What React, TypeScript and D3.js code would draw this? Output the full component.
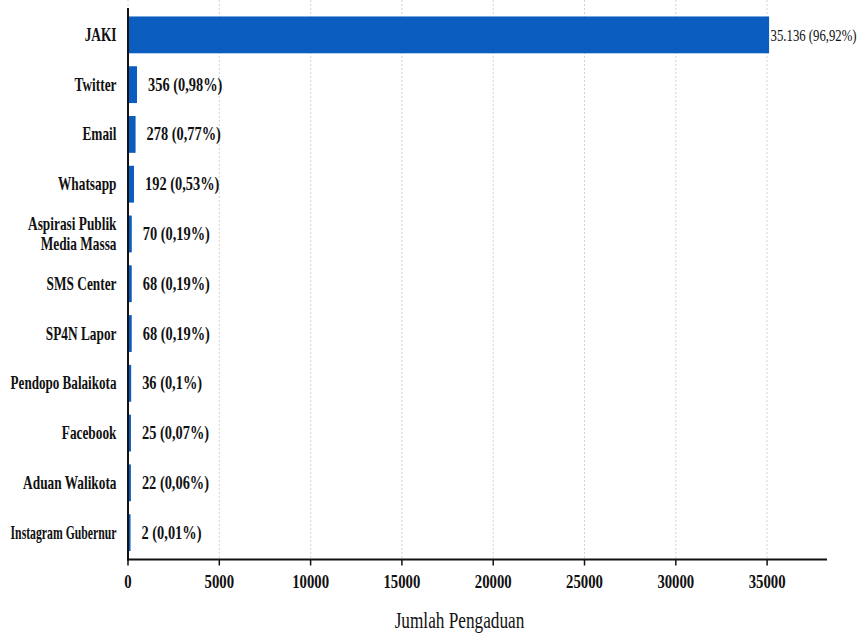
import React, { useLayoutEffect, useRef, useState } from "react";
import * as d3 from "d3";

const categories: string[][] = [
  ["JAKI"],
  ["Twitter"],
  ["Email"],
  ["Whatsapp"],
  ["Aspirasi Publik", "Media Massa"],
  ["SMS Center"],
  ["SP4N Lapor"],
  ["Pendopo Balaikota"],
  ["Facebook"],
  ["Aduan Walikota"],
  ["Instagram Gubernur"],
];
const values: number[] = [35136, 356, 278, 192, 70, 68, 68, 36, 25, 22, 2];
const valueLabels: string[] = [
  "35.136 (96,92%)",
  "356 (0,98%)",
  "278 (0,77%)",
  "192 (0,53%)",
  "70 (0,19%)",
  "68 (0,19%)",
  "68 (0,19%)",
  "36 (0,1%)",
  "25 (0,07%)",
  "22 (0,06%)",
  "2 (0,01%)",
];
const xTicks: number[] = [0, 5000, 10000, 15000, 20000, 25000, 30000, 35000];
const axisTitle = "Jumlah Pengaduan";

const W = 859;
const H = 639;
const BLUE = "#0b5dbf";
const FONT = "Liberation Serif, Times New Roman, serif";

function FitText(props: { x: number; y: number; text: string; base: number; maxW: number }) {
  const ref = useRef<SVGTextElement>(null);
  const [sx, setSx] = useState(props.base);
  useLayoutEffect(() => {
    if (ref.current) {
      const w = ref.current.getComputedTextLength();
      if (w > 0) setSx(Math.min(props.base, props.maxW / w));
    }
  }, [props.text, props.base, props.maxW]);
  return (
    <text
      ref={ref}
      transform={`translate(${props.x},${props.y}) scale(${sx},1)`}
      textAnchor="end"
      fontFamily={FONT}
      fontSize={18}
      fontWeight="bold"
      fill="#111"
    >
      {props.text}
    </text>
  );
}

export default function App() {
  const left = 128;
  const right = 827;
  const top = 8;
  const bottom = 559.5;

  const x = d3.scaleLinear().domain([0, 38280]).range([left, right]);
  const y = d3
    .scaleBand<number>()
    .domain(d3.range(categories.length))
    .range([top, bottom])
    .paddingInner(0.26)
    .paddingOuter(0.17);
  const bw = y.bandwidth();
  const sw = 2.5;

  return (
    <svg
      width={W}
      height={H}
      style={{ position: "absolute", left: 0, top: 0, background: "#fff" }}
    >
      <rect x={0} y={0} width={W} height={H} fill="#fff" />
      {xTicks.map((t) => (
        <line
          key={"g" + t}
          x1={x(t)}
          x2={x(t)}
          y1={0}
          y2={bottom}
          stroke="#d4d4d4"
          strokeWidth={1}
          strokeDasharray="2,2"
        />
      ))}
      {values.map((v, i) => {
        const cy = (y(i) as number) + bw / 2;
        return (
          <rect
            key={"b" + i}
            x={x(0) + sw / 2}
            y={cy - bw / 2 + sw / 2}
            width={Math.max(0, x(v) - x(0) - (i === 0 ? 3 : 0))}
            height={bw - sw}
            fill={BLUE}
            stroke={BLUE}
            strokeWidth={sw}
          />
        );
      })}
      {values.map((v, i) => {
        const cy = (y(i) as number) + bw / 2;
        const isBig = i === 0;
        const lx = isBig ? x(v) + 1 : x(v) + 13.5;
        return (
          <text
            key={"v" + i}
            transform={`translate(${lx},${cy + 6}) scale(${isBig ? 0.75 : 0.8},1)`}
            fontFamily={FONT}
            fontSize={isBig ? 17 : 18}
            fontWeight={isBig ? "normal" : "bold"}
            fill="#111"
          >
            {valueLabels[i]}
          </text>
        );
      })}
      {categories.map((lines, i) => {
        const cy = (y(i) as number) + bw / 2;
        return lines.map((ln, j) => {
          const off = lines.length === 1 ? 6 : j === 0 ? -4 : 16;
          return (
            <FitText
              key={"c" + i + "_" + j}
              x={116.5}
              y={cy + off}
              text={ln}
              base={0.74}
              maxW={106}
            />
          );
        });
      })}
      <line x1={left} x2={left} y1={top} y2={bottom + 1} stroke="#111" strokeWidth={2} />
      <line x1={left - 1} x2={right} y1={bottom} y2={bottom} stroke="#111" strokeWidth={2.2} />
      {xTicks.map((t) => (
        <g key={"t" + t}>
          <line x1={x(t)} x2={x(t)} y1={bottom} y2={bottom + 6} stroke="#111" strokeWidth={1.5} />
          <text
            transform={`translate(${x(t)},${588}) scale(0.82,1)`}
            textAnchor="middle"
            fontFamily={FONT}
            fontSize={18}
            fontWeight="bold"
            fill="#111"
          >
            {t}
          </text>
        </g>
      ))}
      <text
        transform={`translate(${459.5},${628}) scale(0.75,1)`}
        textAnchor="middle"
        fontFamily={FONT}
        fontSize={23}
        fill="#111"
      >
        {axisTitle}
      </text>
    </svg>
  );
}
